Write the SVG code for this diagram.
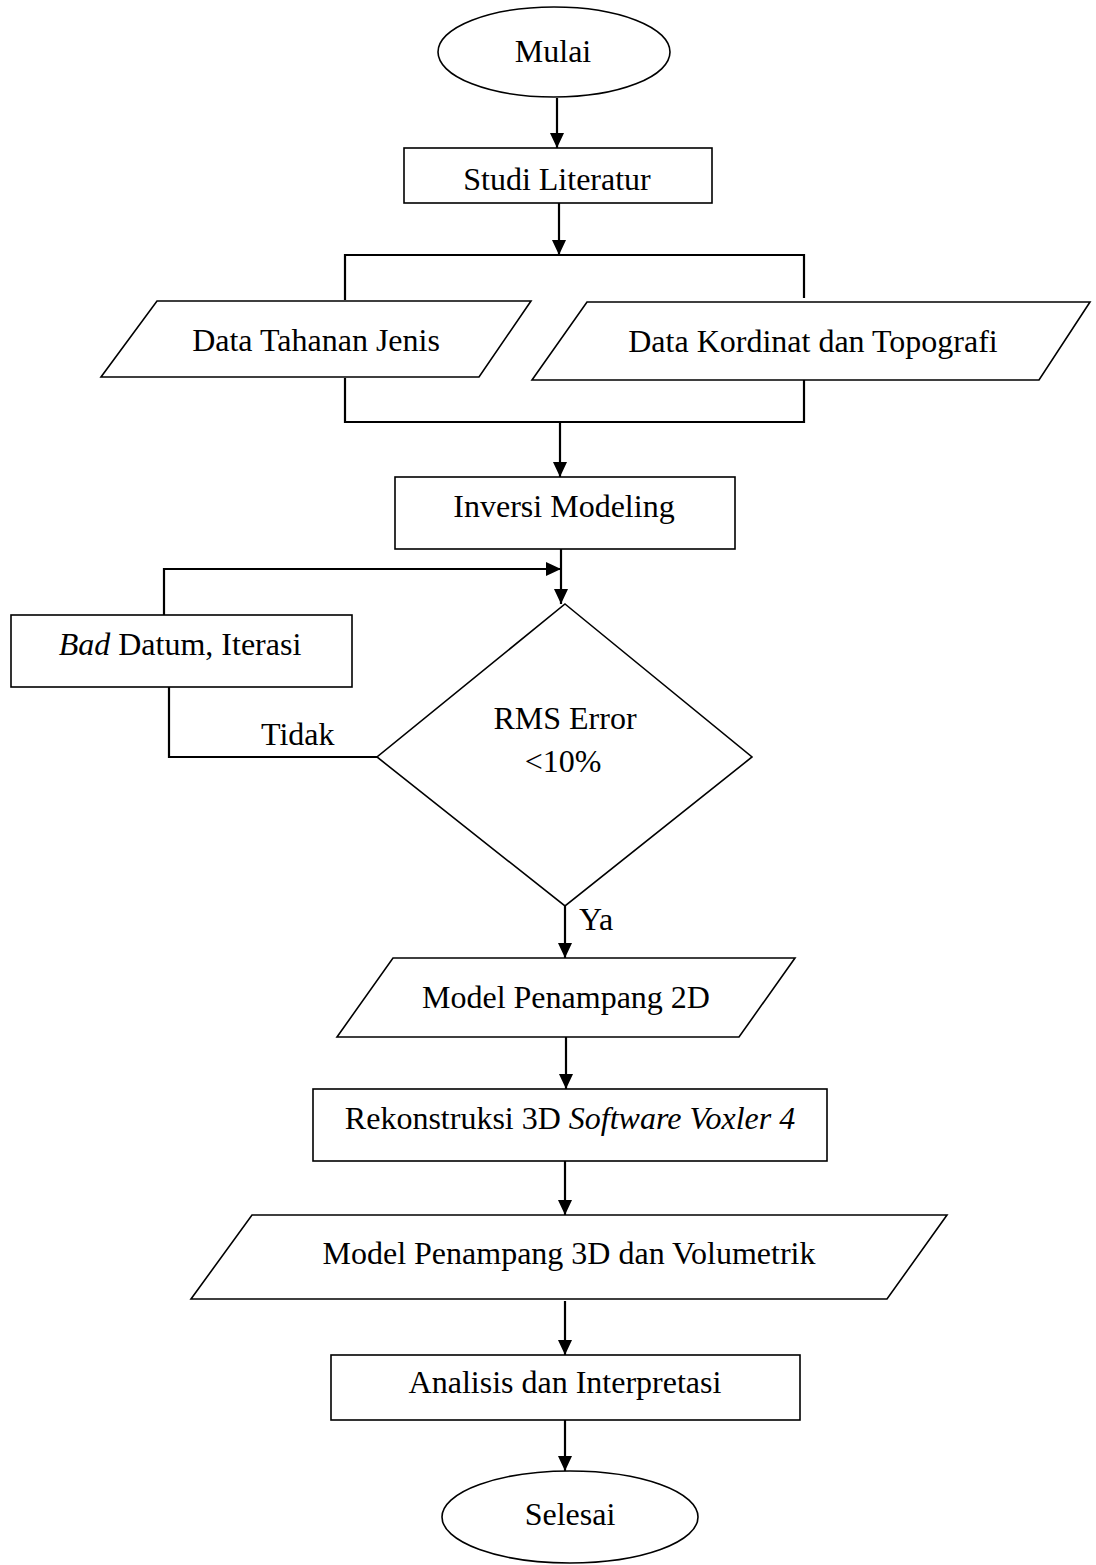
<svg xmlns="http://www.w3.org/2000/svg" width="1096" height="1565" viewBox="0 0 1096 1565">
<style>
.s{fill:#fff;stroke:#000;stroke-width:1.6}
.c{fill:none;stroke:#000;stroke-width:2.2}
text{font-family:"Liberation Serif","Times New Roman",serif;font-size:32px;fill:#000}
.m{text-anchor:middle}
</style>
<defs>
<marker id="ah" markerUnits="userSpaceOnUse" markerWidth="16" markerHeight="16" refX="15" refY="7" orient="auto">
<path d="M0,0 L15,7 L0,14 z" fill="#000"/>
</marker>
</defs>
<rect width="1096" height="1565" fill="#fff"/>
<g id="connectors">
<path class="c" d="M557,98 V148" marker-end="url(#ah)"/>
<path class="c" d="M559,203 V255" marker-end="url(#ah)"/>
<path class="c" d="M345,300 V255 H804 V298"/>
<path class="c" d="M345,378 V422 H804 V380"/>
<path class="c" d="M560,422 V477" marker-end="url(#ah)"/>
<path class="c" d="M561,549 V604" marker-end="url(#ah)"/>
<path class="c" d="M164,615 V569 H561" marker-end="url(#ah)"/>
<path class="c" d="M378,757 H169 V687"/>
<path class="c" d="M565,906 V958" marker-end="url(#ah)"/>
<path class="c" d="M566,1037 V1089" marker-end="url(#ah)"/>
<path class="c" d="M565,1161 V1215" marker-end="url(#ah)"/>
<path class="c" d="M565,1301 V1355" marker-end="url(#ah)"/>
<path class="c" d="M565,1420 V1471" marker-end="url(#ah)"/>
</g>
<g id="mulai">
<ellipse class="s" cx="554" cy="52" rx="116" ry="45"/>
<text class="m" x="553" y="62">Mulai</text>
</g>
<g id="studi">
<rect class="s" x="404" y="148" width="308" height="55"/>
<text class="m" x="557" y="190">Studi Literatur</text>
</g>
<g id="data-tahanan">
<polygon class="s" points="157,301 531,301 479,377 101,377"/>
<text class="m" x="316" y="351">Data Tahanan Jenis</text>
</g>
<g id="data-kordinat">
<polygon class="s" points="587,302 1090,302 1039,380 532,380"/>
<text class="m" x="813" y="352">Data Kordinat dan Topografi</text>
</g>
<g id="inversi">
<rect class="s" x="395" y="477" width="340" height="72"/>
<text class="m" x="564" y="517">Inversi Modeling</text>
</g>
<g id="bad-datum">
<rect class="s" x="11" y="615" width="341" height="72"/>
<text class="m" x="180" y="655"><tspan font-style="italic">Bad</tspan> Datum, Iterasi</text>
</g>
<g id="rms">
<polygon class="s" points="565,604 752,757 565,906 377,757"/>
<text class="m" x="565" y="729">RMS Error</text>
<text class="m" x="563" y="772">&lt;10%</text>
</g>
<g id="labels">
<text x="261" y="745">Tidak</text>
<text x="579" y="930">Ya</text>
</g>
<g id="model-2d">
<polygon class="s" points="393,958 795,958 739,1037 337,1037"/>
<text class="m" x="566" y="1008">Model Penampang 2D</text>
</g>
<g id="rekonstruksi">
<rect class="s" x="313" y="1089" width="514" height="72"/>
<text class="m" x="570" y="1129">Rekonstruksi 3D <tspan font-style="italic">Software Voxler 4</tspan></text>
</g>
<g id="model-3d">
<polygon class="s" points="252,1215 947,1215 887,1299 191,1299"/>
<text class="m" x="569" y="1264">Model Penampang 3D dan Volumetrik</text>
</g>
<g id="analisis">
<rect class="s" x="331" y="1355" width="469" height="65"/>
<text class="m" x="565" y="1393">Analisis dan Interpretasi</text>
</g>
<g id="selesai">
<ellipse class="s" cx="570" cy="1517" rx="128" ry="46"/>
<text class="m" x="570" y="1525">Selesai</text>
</g>
</svg>
